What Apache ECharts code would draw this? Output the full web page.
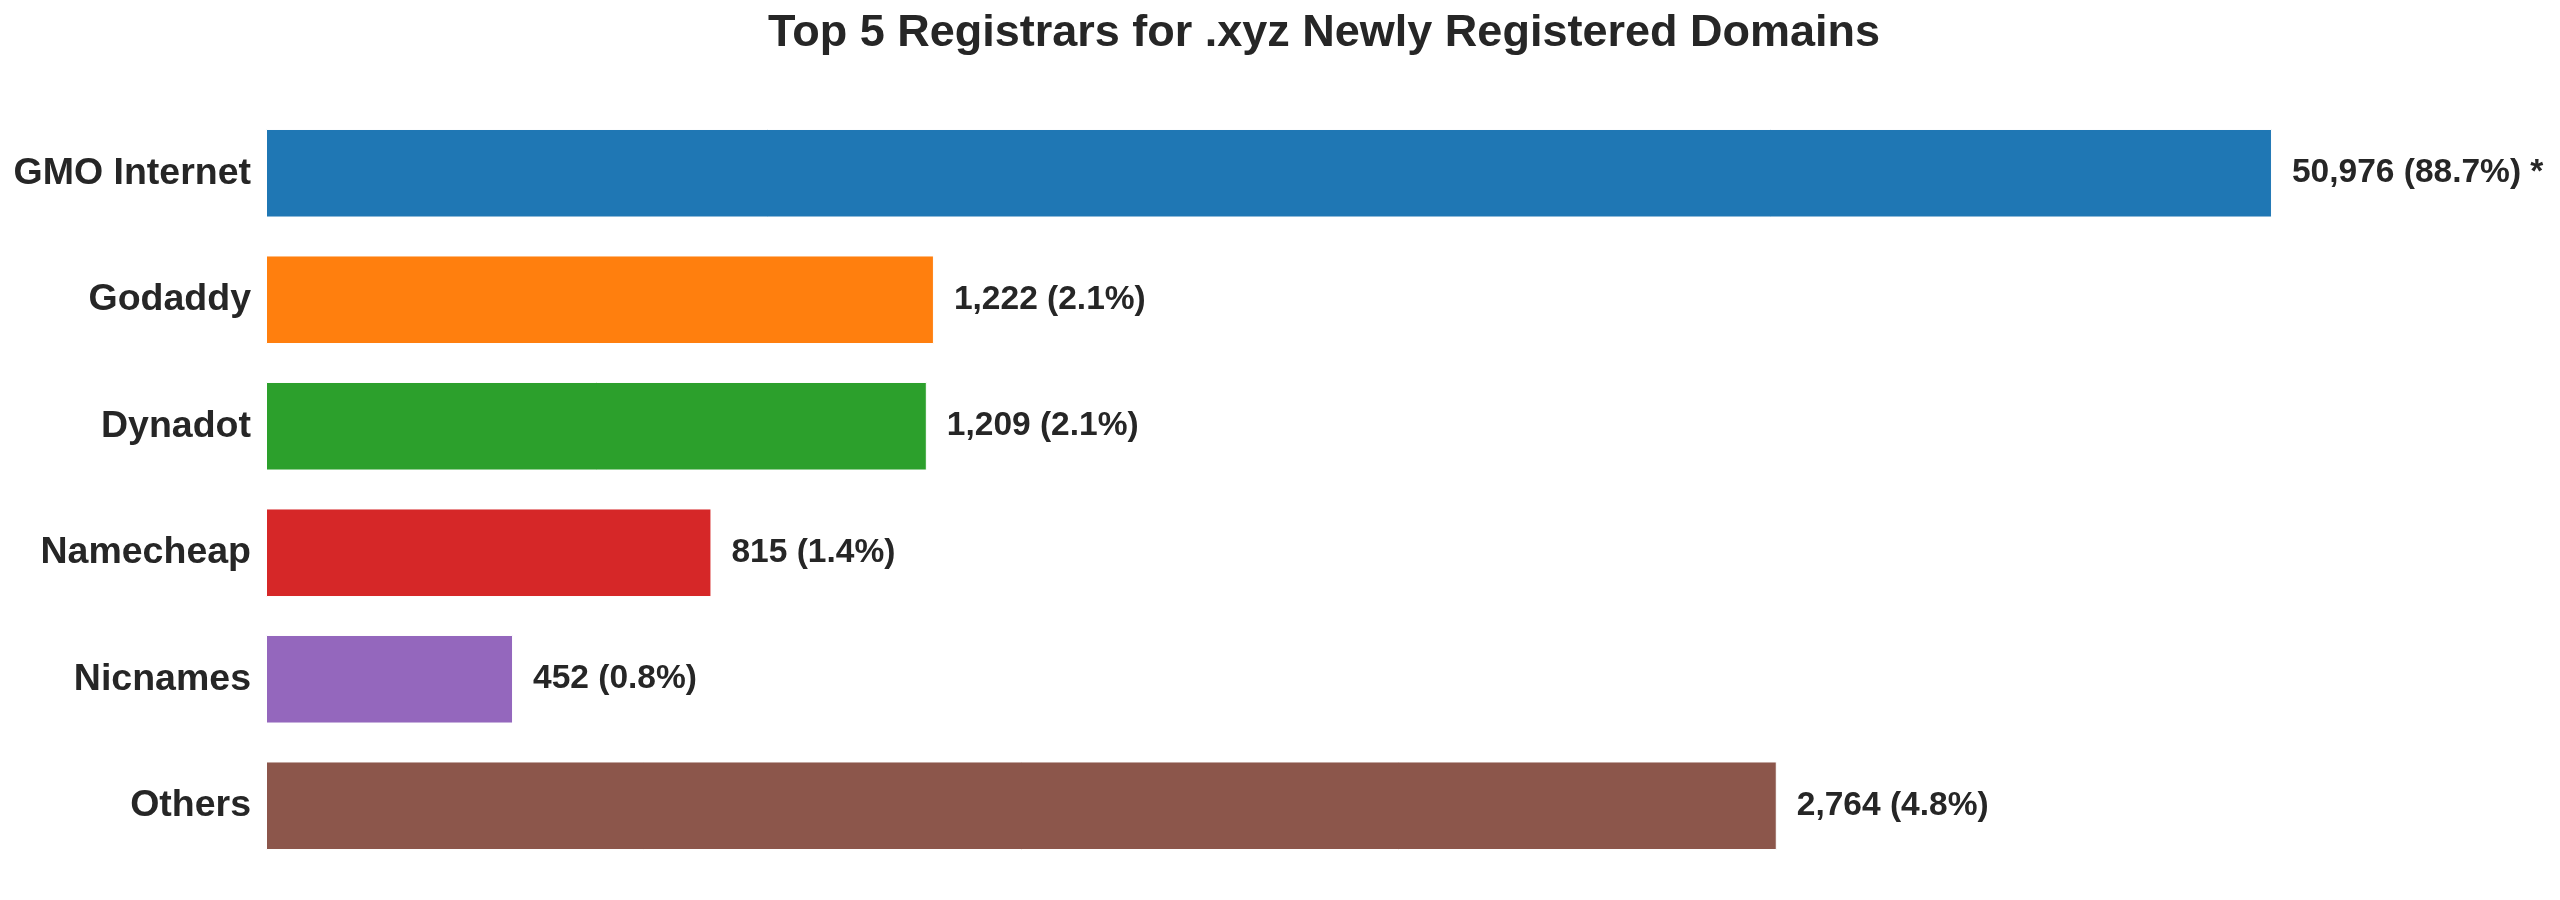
<!DOCTYPE html>
<html>
<head>
<meta charset="utf-8">
<title>Top 5 Registrars for .xyz Newly Registered Domains</title>
<script src="https://cdn.jsdelivr.net/npm/echarts@6/dist/echarts.min.js"></script>
<style>
  html, body { margin: 0; padding: 0; background: #fff; }
  #chart { width: 2560px; height: 900px; }
</style>
</head>
<body>
<div id="chart"></div>
<script>
  const registrars = ["GMO Internet", "Godaddy", "Dynadot", "Namecheap", "Nicnames", "Others"];
  // real counts shown in the labels
  const counts = [50976, 1222, 1209, 815, 452, 2764];
  const shares = [88.7, 2.1, 2.1, 1.4, 0.8, 4.8];
  // bar lengths as drawn: GMO Internet is clipped (marked with *)
  const barLengths = [3670, 1222, 1209, 815, 452, 2764];
  const clipped = [true, false, false, false, false, false];
  const colors = ["#1f77b4", "#ff7f0e", "#2ca02c", "#d62728", "#9467bd", "#8c564b"];

  const textColor = "#262626";
  const font = "Arial, 'Liberation Sans', Helvetica, sans-serif";

  const chart = echarts.init(document.getElementById("chart"), null, { renderer: "canvas" });

  const data = barLengths.map((v, i) => ({
    value: v,
    itemStyle: { color: colors[i] },
    label: {
      formatter: counts[i].toLocaleString("en-US") + " (" + shares[i].toFixed(1) + "%)" + (clipped[i] ? " *" : ""),
    },
  }));

  chart.setOption({
    backgroundColor: "#ffffff",
    animation: false,
    title: {
      text: "Top 5 Registrars for .xyz Newly Registered Domains",
      left: 1319,
      textAlign: "center",
      top: 6,
      textStyle: { fontFamily: font, fontSize: 45, fontWeight: "bold", color: textColor },
    },
    grid: { left: 266, right: 188, top: 110, bottom: 31, containLabel: false },
    xAxis: {
      type: "value",
      min: 0,
      max: 3853,
      show: false,
    },
    yAxis: {
      type: "category",
      data: registrars,
      inverse: true,
      axisLine: { show: false },
      axisTick: { show: false },
      splitLine: { show: false },
      axisLabel: {
        margin: 15,
        fontFamily: font,
        fontSize: 37.5,
        fontWeight: "bold",
        color: textColor,
      },
    },
    series: [
      {
        type: "bar",
        data,
        barWidth: "70%",
        itemStyle: { borderColor: "#ffffff", borderWidth: 1 },
        label: {
          show: true,
          position: "right",
          distance: 20,
          fontFamily: font,
          fontSize: 33.5,
          fontWeight: "bold",
          color: textColor,
        },
      },
    ],
  });

  window.addEventListener("resize", () => chart.resize());
</script>
</body>
</html>
